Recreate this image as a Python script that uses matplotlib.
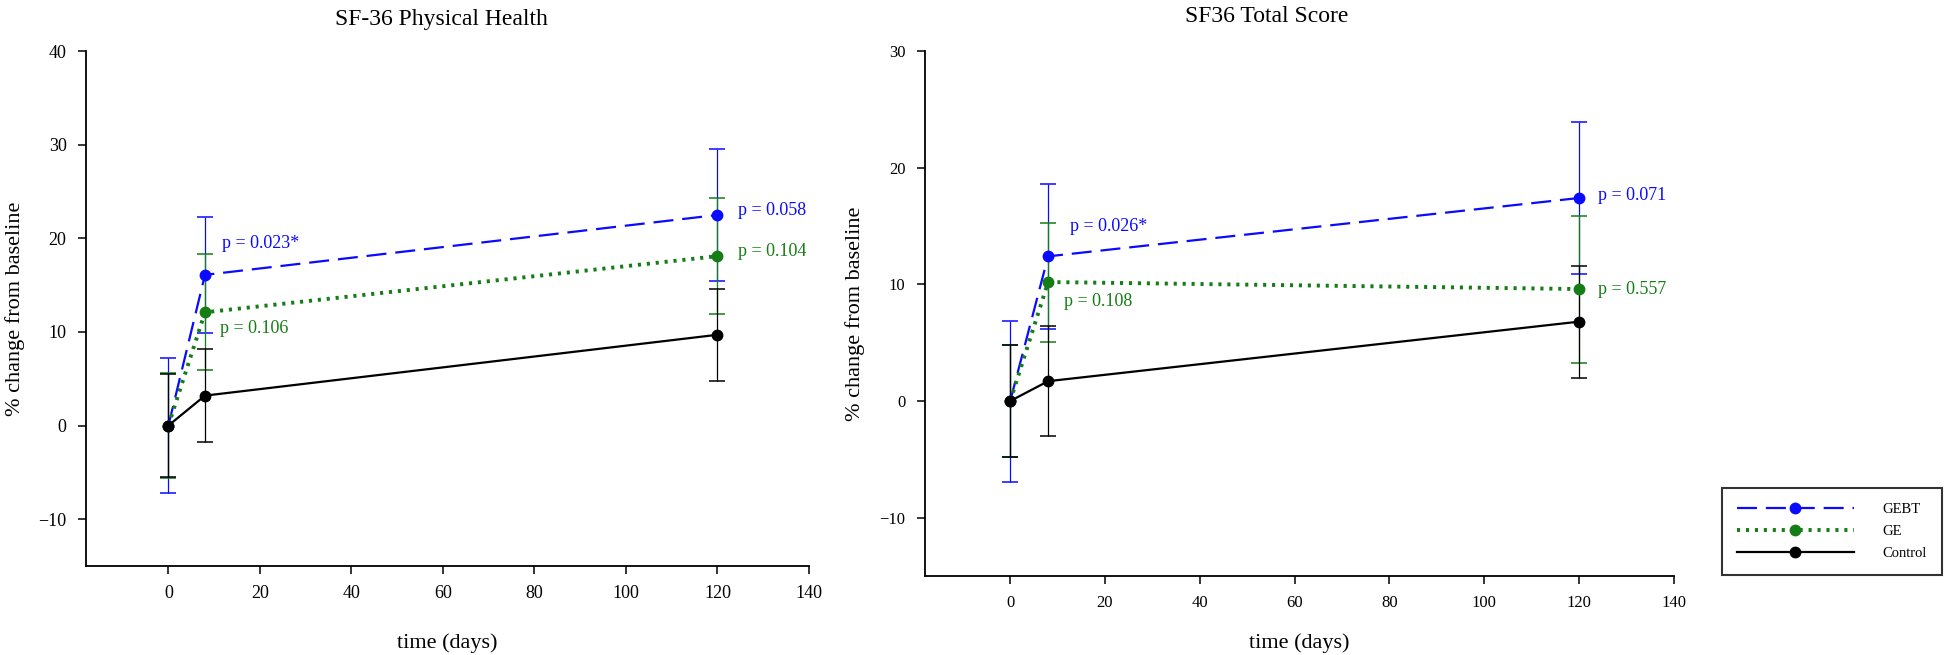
import matplotlib
matplotlib.use('Agg')
import matplotlib.pyplot as plt

plt.rcParams['font.family'] = ['Liberation Serif', 'DejaVu Serif']

days = [0, 8, 120]

group_names = ['GEBT', 'GE', 'Control']
group_colors = ['#0a0aff', '#157d15', '#000000']

# SF-36 Physical Health (% change from baseline, mean and error)
ph_gebt = [0, 16.1, 22.5]
ph_gebt_err = [7.2, 6.2, 7.1]
ph_ge = [0, 12.1, 18.1]
ph_ge_err = [5.6, 6.2, 6.2]
ph_control = [0, 3.2, 9.7]
ph_control_err = [5.5, 5.0, 4.9]
ph_pvalues = ['p = 0.023*', 'p = 0.106', 'p = 0.058', 'p = 0.104']

# SF36 Total Score
ts_gebt = [0, 12.4, 17.4]
ts_gebt_err = [6.9, 6.2, 6.5]
ts_ge = [0, 10.2, 9.6]
ts_ge_err = [4.8, 5.1, 6.3]
ts_control = [0, 1.7, 6.8]
ts_control_err = [4.8, 4.7, 4.8]
ts_pvalues = ['p = 0.026*', 'p = 0.108', 'p = 0.071', 'p = 0.557']


def draw_panel(ax, series, errors, pvalues, pvalue_pos, title, title_pos, ylim, yticks,
               ylabel_pos, xlabel_pos, tick_size):
    styles = [(0, (9, 4)), (0, (0.8, 1.5)), '-']
    widths = [1.6, 2.8, 1.6]
    lines = []
    for i in range(3):
        line, = ax.plot(days, series[i], color=group_colors[i], linestyle=styles[i],
                        linewidth=widths[i], marker='o', markersize=7.5,
                        label=group_names[i], zorder=3)
        lines.append(line)
        ax.errorbar(days, series[i], yerr=errors[i], fmt='none', ecolor=group_colors[i],
                    elinewidth=0.9, capsize=6, capthick=1.1, zorder=2)

    text_colors = [group_colors[0], group_colors[1], group_colors[0], group_colors[1]]
    for i in range(4):
        ax.text(pvalue_pos[i][0], pvalue_pos[i][1], pvalues[i], color=text_colors[i],
                fontsize=13, va='center', ha='left')

    ax.set_xlim(-18, 140)
    ax.set_ylim(ylim)
    ax.set_xticks([0, 20, 40, 60, 80, 100, 120, 140])
    ax.set_yticks(yticks)
    ax.spines['top'].set_visible(False)
    ax.spines['right'].set_visible(False)
    ax.spines['left'].set_linewidth(1.3)
    ax.spines['bottom'].set_linewidth(1.3)
    ax.tick_params(direction='out', length=6, width=1.1, labelsize=tick_size, pad=8)

    ax.set_title(title, fontsize=17, x=title_pos[0], y=title_pos[1])
    ax.set_xlabel('time (days)', fontsize=16)
    ax.set_ylabel('% change from baseline', fontsize=16)
    ax.yaxis.set_label_coords(ylabel_pos[0], ylabel_pos[1])
    ax.xaxis.set_label_coords(xlabel_pos[0], xlabel_pos[1])
    return lines


fig = plt.figure(figsize=(19.46, 6.55), dpi=100)
ax1 = fig.add_axes([0.0442, 0.1359, 0.3715, 0.786])
ax2 = fig.add_axes([0.4753, 0.1206, 0.3847, 0.8015])

draw_panel(ax1, [ph_gebt, ph_ge, ph_control], [ph_gebt_err, ph_ge_err, ph_control_err],
           ph_pvalues, [(11.8, 19.4), (11.2, 10.4), (124.5, 23.0), (124.5, 18.6)],
           'SF-36 Physical Health', (0.491, 1.035), (-15, 40), [-10, 0, 10, 20, 30, 40],
           (-0.084, 0.5), (0.5, -0.13), 13)

lines = draw_panel(ax2, [ts_gebt, ts_ge, ts_control], [ts_gebt_err, ts_ge_err, ts_control_err],
                   ts_pvalues, [(12.7, 15.0), (11.3, 8.5), (124.1, 17.6), (124.1, 9.6)],
                   'SF36 Total Score', (0.457, 1.04), (-15, 30), [-10, 0, 10, 20, 30],
                   (-0.08, 0.5), (0.5, -0.11), 12)

leg = fig.legend(handles=lines, loc='upper left', bbox_to_anchor=(0.8813, 0.2656),
                 fontsize=10.5, handlelength=8, handletextpad=2, labelspacing=0.6,
                 borderpad=1.0, fancybox=False, frameon=True, edgecolor='black')
leg.get_frame().set_linewidth(1.5)

plt.savefig('out.png', dpi=100)
